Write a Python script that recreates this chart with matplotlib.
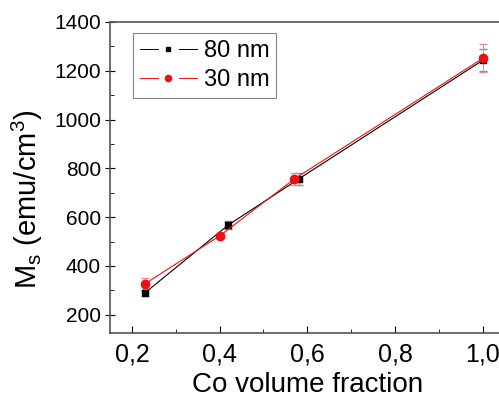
import matplotlib
matplotlib.use("Agg")
import matplotlib.pyplot as plt
from matplotlib.lines import Line2D
from matplotlib.legend_handler import HandlerLine2D
from matplotlib.ticker import FuncFormatter, MultipleLocator

plt.rcParams['font.family'] = ['Liberation Sans', 'DejaVu Sans']

# data
x80 = [0.23, 0.42, 0.58, 1.0]
y80 = [290, 568, 756, 1243]
e80 = [12, 15, 25, 45]
x30 = [0.23, 0.40, 0.57, 1.0]
y30 = [327, 523, 756, 1251]
e30 = [22, 12, 25, 58]


class GapHandler(HandlerLine2D):
    # Origin style legend key: line, gap, marker, gap, line
    def create_artists(self, legend, orig_handle, xdescent, ydescent,
                       width, height, fontsize, trans):
        y = height / 2 - ydescent
        x0 = -xdescent
        g = 0.19 * width
        arts = []
        for a, b in [(x0, x0 + width / 2 - g), (x0 + width / 2 + g, x0 + width)]:
            ln = Line2D([a, b], [y, y])
            self.update_prop(ln, orig_handle, legend)
            ln.set_marker('none')
            ln.set_linewidth(0.7)
            ln.set_transform(trans)
            arts.append(ln)
        mk = Line2D([x0 + width / 2], [y])
        self.update_prop(mk, orig_handle, legend)
        mk.set_linestyle('none')
        mk.set_markersize(orig_handle.get_markersize() * 0.75)
        mk.set_transform(trans)
        return arts + [mk]


fig = plt.figure(figsize=(4.99, 4.01), dpi=100)
ax = fig.add_axes([0.2204, 0.1696, 0.791, 0.7756])

ax.errorbar(x80, y80, yerr=e80, fmt='none', elinewidth=0.7, capsize=3,
            ecolor='#888888', zorder=2)
ax.errorbar(x30, y30, yerr=e30, fmt='none', elinewidth=0.7, capsize=3,
            ecolor='#e88aa0', zorder=2)
ax.plot(x80, y80, color='black', marker='s', ms=4.5, lw=0.8, label='80 nm', zorder=3)
ax.plot(x30, y30, color='#ee1111', marker='o', ms=6, lw=0.8, label='30 nm', zorder=4)

ax.set_xlim(0.15, 1.05)
ax.set_ylim(125, 1400)
ax.xaxis.set_major_locator(MultipleLocator(0.2))
ax.xaxis.set_minor_locator(MultipleLocator(0.1))
ax.yaxis.set_major_locator(MultipleLocator(200))
ax.yaxis.set_minor_locator(MultipleLocator(100))
ax.xaxis.set_major_formatter(FuncFormatter(lambda v, p: f"{v:.1f}".replace('.', ',')))
ax.tick_params(axis='x', which='both', direction='in', labelsize=18, length=5, pad=7)
ax.tick_params(axis='x', which='minor', length=3)
ax.tick_params(axis='y', which='major', direction='inout', labelsize=15, length=7, pad=3)
ax.tick_params(axis='y', which='minor', direction='in', length=3)
for s in ax.spines.values():
    s.set_color('#555555')
    s.set_linewidth(1.2)

ax.set_xlabel('Co volume fraction', fontsize=20, labelpad=4)
ax.set_ylabel(r'M$_\mathregular{s}$ (emu/cm$^\mathregular{3}$)', fontsize=21)
ax.yaxis.set_label_coords(-0.165, 0.43)

leg = ax.legend(handler_map={Line2D: GapHandler()},
                loc='upper left', fontsize=17, frameon=True, fancybox=False,
                edgecolor='#666666', handlelength=2.4, borderpad=0.3,
                handletextpad=0.3, labelspacing=0.3, borderaxespad=0,
                bbox_to_anchor=(0.058, 0.965))
leg.get_frame().set_linewidth(0.8)

fig.savefig('out.png', dpi=100)
